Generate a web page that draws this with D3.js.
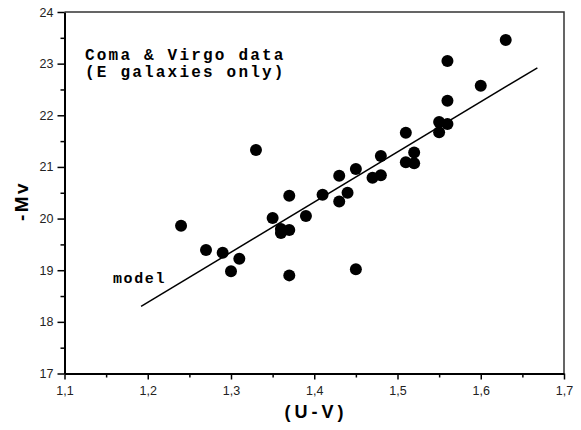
<!DOCTYPE html>
<html>
<head>
<meta charset="utf-8">
<script src="https://cdn.jsdelivr.net/npm/d3@7"></script>
<style>
  html, body { margin: 0; padding: 0; background: #fff; }
  svg { display: block; }
</style>
</head>
<body>
<script>
// ---- data ----
const uvColor = [1.24,1.27,1.29,1.30,1.31,1.33,1.35,1.36,1.36,1.37,1.37,1.37,1.39,1.41,1.43,1.43,1.44,1.45,1.45,1.47,1.48,1.48,1.51,1.51,1.52,1.52,1.55,1.55,1.56,1.56,1.56,1.60,1.63];
const negMv   = [19.86,19.39,19.34,18.98,19.22,21.33,20.01,19.80,19.72,19.78,18.90,20.44,20.05,20.46,20.83,20.33,20.50,20.96,19.02,20.79,20.84,21.21,21.66,21.09,21.28,21.07,21.87,21.67,21.83,22.28,23.05,22.57,23.46];
const modelX = [1.192, 1.668];
const modelY = [18.30, 22.92];
const xTicks = [1.1,1.2,1.3,1.4,1.5,1.6,1.7];
const xTickLabels = ["1,1","1,2","1,3","1,4","1,5","1,6","1,7"];
const xMinorTicks = [1.15,1.25,1.35,1.45,1.55,1.65];
const yTicks = [17,18,19,20,21,22,23,24];
const yTickLabels = ["17","18","19","20","21","22","23","24"];
const yMinorTicks = [17.5,18.5,19.5,20.5,21.5,22.5,23.5];

const W = 581, H = 430;
const L = 64.5, R = 564, T = 12, B = 373.5;

const svg = d3.select("body").append("svg").attr("width", W).attr("height", H);

const x = d3.scaleLinear().domain([1.1, 1.7]).range([L, R]);
const y = d3.scaleLinear().domain([17, 24]).range([B, T]);

// frame top/right
svg.append("path")
  .attr("d", `M${L},${T}H${R}V${B}`)
  .attr("fill", "none").attr("stroke", "#333").attr("stroke-width", 1.5);

// minor ticks
svg.append("g").attr("transform", `translate(0,${B})`)
  .call(d3.axisBottom(x).tickValues(xMinorTicks).tickSize(4).tickFormat(""))
  .call(g => g.select(".domain").remove())
  .selectAll("line").attr("stroke-width", 1.5);
svg.append("g").attr("transform", `translate(${L},0)`)
  .call(d3.axisLeft(y).tickValues(yMinorTicks).tickSize(4).tickFormat(""))
  .call(g => g.select(".domain").remove())
  .selectAll("line").attr("stroke-width", 1.5);

// major axes
const xAxis = svg.append("g").attr("transform", `translate(0,${B})`)
  .call(d3.axisBottom(x).tickValues(xTicks).tickSize(6).tickSizeOuter(0)
        .tickFormat((d, i) => xTickLabels[i]));
xAxis.select(".domain").attr("stroke-width", 2);
xAxis.selectAll("line").attr("stroke-width", 1.5);
xAxis.selectAll("text").attr("font-family", "Arial, 'Liberation Sans', sans-serif")
  .attr("font-size", 12.5).attr("fill", "#222").attr("dy", "0.71em").attr("y", 13);

const yAxis = svg.append("g").attr("transform", `translate(${L},0)`)
  .call(d3.axisLeft(y).tickValues(yTicks).tickSize(7).tickSizeOuter(0)
        .tickFormat((d, i) => yTickLabels[i]));
yAxis.select(".domain").attr("stroke-width", 2);
yAxis.selectAll("line").attr("stroke-width", 1.5);
yAxis.selectAll("text").attr("font-family", "Arial, 'Liberation Sans', sans-serif")
  .attr("font-size", 12.5).attr("fill", "#222").attr("x", -11);

// model line
svg.append("line")
  .attr("x1", x(modelX[0])).attr("y1", y(modelY[0]))
  .attr("x2", x(modelX[1])).attr("y2", y(modelY[1]))
  .attr("stroke", "#000").attr("stroke-width", 1.5);

// points
svg.append("g").selectAll("circle")
  .data(uvColor.map((u, i) => [u, negMv[i]]))
  .join("circle")
  .attr("cx", d => x(d[0])).attr("cy", d => y(d[1]))
  .attr("r", 6).attr("fill", "#000");

// annotations
const mono = "'Liberation Mono', 'DejaVu Sans Mono', monospace";
const ann = svg.append("text").attr("font-family", mono).attr("font-weight", "bold")
  .attr("font-size", 16).attr("letter-spacing", 2.2).attr("fill", "#000");
ann.append("tspan").attr("x", 85).attr("y", 60).text("Coma & Virgo data");
ann.append("tspan").attr("x", 85).attr("y", 77).text("(E galaxies only)");

svg.append("text").attr("font-family", mono).attr("font-weight", "bold")
  .attr("font-size", 15).attr("letter-spacing", 1.6)
  .attr("x", 113).attr("y", 283).text("model");

// axis titles
svg.append("text")
  .attr("font-family", "Arial, 'Liberation Sans', sans-serif").attr("font-weight", "bold")
  .attr("font-size", 19).attr("letter-spacing", 2.5)
  .attr("text-anchor", "middle")
  .attr("transform", `translate(28,201) rotate(-90)`)
  .text("-Mv");

svg.append("text")
  .attr("font-family", "Arial, 'Liberation Sans', sans-serif").attr("font-weight", "bold")
  .attr("font-size", 18).attr("letter-spacing", 4)
  .attr("text-anchor", "middle")
  .attr("x", 316).attr("y", 418)
  .text("(U-V)");
</script>
</body>
</html>
